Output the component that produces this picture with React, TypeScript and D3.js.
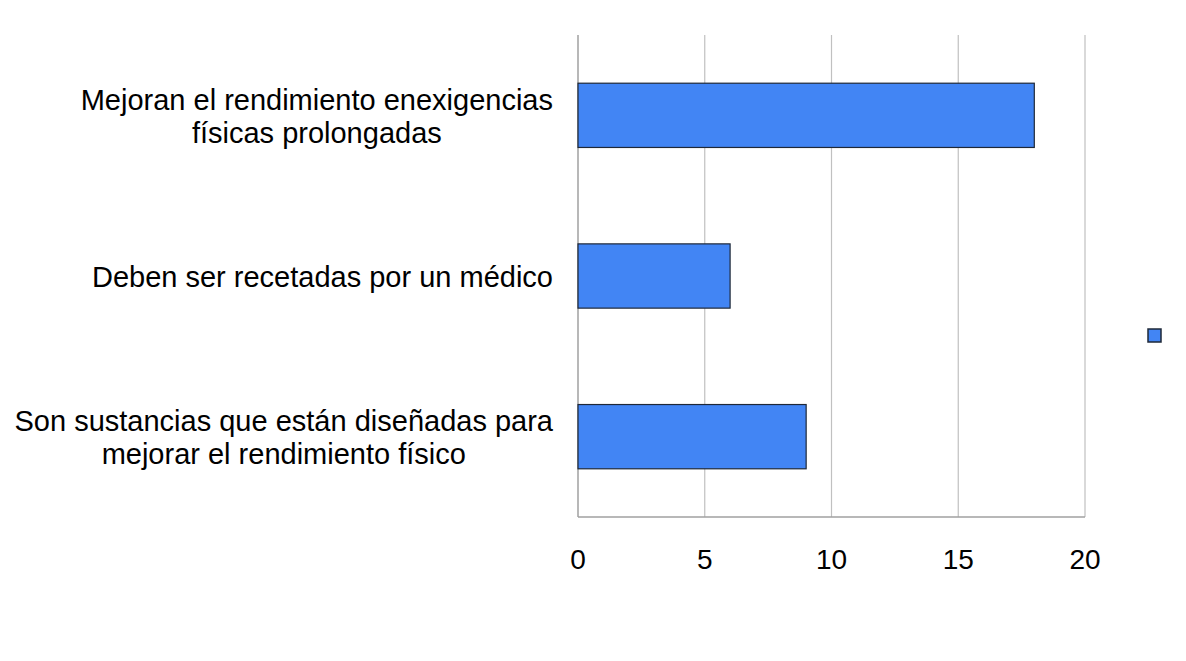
import React, { useMemo } from "react";
import * as d3 from "d3";

const categories: string[][] = [
  ["Mejoran el rendimiento enexigencias", "físicas prolongadas"],
  ["Deben ser recetadas por un médico"],
  ["Son sustancias que están diseñadas para", "mejorar el rendimiento físico"],
];
const values: number[] = [18, 6, 9];
const ticks: number[] = [0, 5, 10, 15, 20];

const W = 1186;
const H = 661;
const FONT = "'Liberation Sans', Arial, sans-serif";
const FS = 29;
const TFS = 28;

function measure(text: string): number {
  const c = document.createElement("canvas").getContext("2d");
  if (!c) return text.length * 14;
  c.font = `${FS}px ${FONT}`;
  return c.measureText(text).width;
}

export default function App() {
  const x = d3.scaleLinear().domain([0, 20]).range([578, 1085]);
  const y = d3
    .scaleBand<number>()
    .domain(values.map((_, i) => i))
    .range([35, 517])
    .paddingInner(0.6)
    .paddingOuter(0.3);

  const labelRight = 553;
  const widths = useMemo(() => categories.map((lines) => Math.max(...lines.map(measure))), []);

  return (
    <svg width={W} height={H} style={{ position: "absolute", left: 0, top: 0, background: "#fff" }}>
      <rect width={W} height={H} fill="#fff" />
      {ticks.slice(1).map((t) => (
        <line key={t} x1={x(t)} x2={x(t)} y1={35} y2={517} stroke="#c0c0c0" strokeWidth={1.2} />
      ))}
      <line x1={x(0)} x2={x(0)} y1={35} y2={517} stroke="#a0a0a0" strokeWidth={1.5} />
      <line x1={x(0)} x2={x(20)} y1={517} y2={517} stroke="#a0a0a0" strokeWidth={1.5} />
      {values.map((v, i) => (
        <rect
          key={i}
          x={x(0)}
          y={y(i)!}
          width={x(v) - x(0)}
          height={y.bandwidth()}
          fill="#4285f4"
          stroke="#1e2838"
          strokeWidth={1.2}
        />
      ))}
      {ticks.map((t) => (
        <text
          key={t}
          x={x(t)}
          y={569}
          textAnchor="middle"
          fontFamily={FONT}
          fontSize={TFS}
          fill="#000"
        >
          {t}
        </text>
      ))}
      {categories.map((lines, i) => {
        const cx = labelRight - widths[i] / 2;
        const cy = y(i)! + y.bandwidth() / 2;
        const lh = 33;
        const start = cy - ((lines.length - 1) * lh) / 2;
        return (
          <text key={i} fontFamily={FONT} fontSize={FS} fill="#000" textAnchor="middle">
            {lines.map((l, j) => (
              <tspan key={j} x={cx} y={start + j * lh + 11}>
                {l}
              </tspan>
            ))}
          </text>
        );
      })}
      <rect x={1148} y={329} width={13} height={13} fill="#4285f4" stroke="#1e2838" strokeWidth={1.5} />
    </svg>
  );
}
